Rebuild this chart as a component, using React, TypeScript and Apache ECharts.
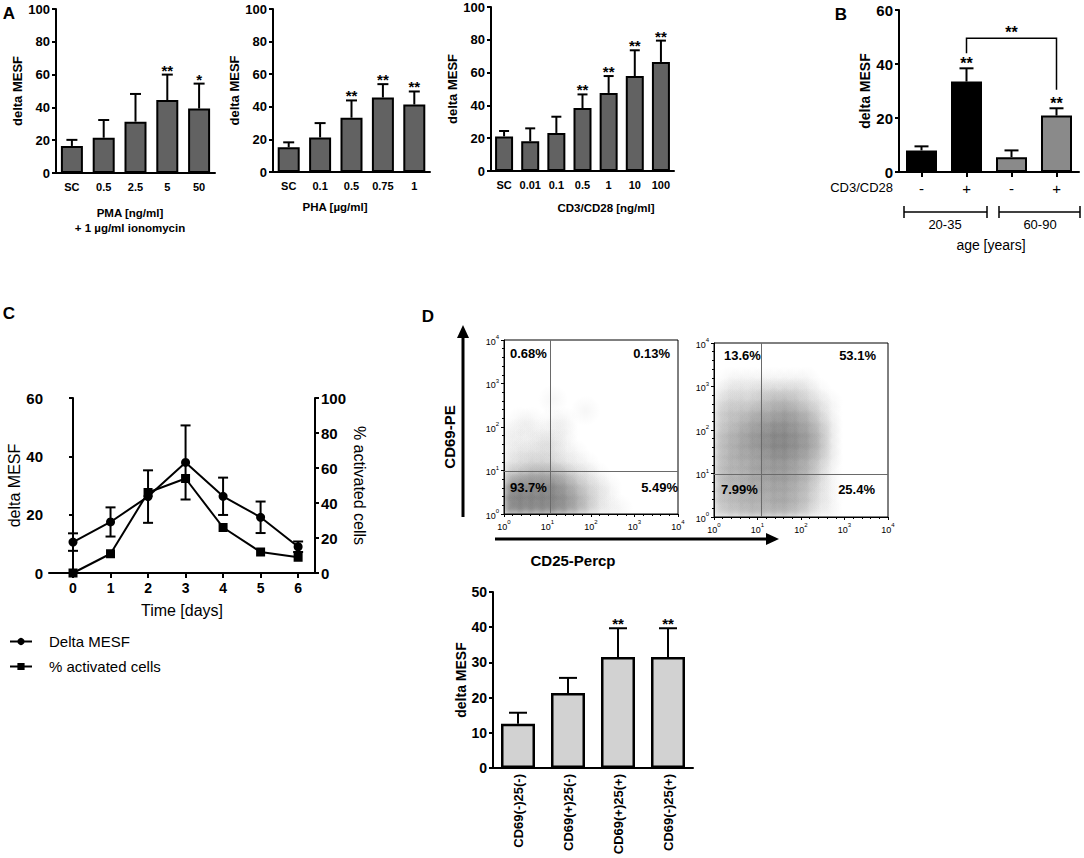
import React, { useEffect, useRef } from "react";
import * as echarts from "echarts";

const FF = "Liberation Sans, Arial, Helvetica, sans-serif";

// ---------------- Panel A ----------------
const a1Categories = ["SC", "0.5", "2.5", "5", "50"];
const a1Values = [16.5, 21.5, 31.3, 44.5, 39.3];
const a1ErrTop = [20.2, 32.3, 48.2, 60.0, 54.5];
const a1Stars = ["", "", "", "**", "*"];

const a2Categories = ["SC", "0.1", "0.5", "0.75", "1"];
const a2Values = [15.2, 21.2, 33.3, 45.7, 41.4];
const a2ErrTop = [18.2, 30.0, 43.9, 53.9, 49.4];
const a2Stars = ["", "", "**", "**", "**"];

const a3Categories = ["SC", "0.01", "0.1", "0.5", "1", "10", "100"];
const a3Values = [21.1, 18.1, 23.2, 38.4, 47.6, 57.9, 66.5];
const a3ErrTop = [24.4, 26.0, 33.1, 46.7, 57.9, 73.6, 79.5];
const a3Stars = ["", "", "", "**", "**", "**", "**"];

// ---------------- Panel B ----------------
const bCategories = ["-", "+", "-", "+"];
const bGroups = ["20-35", "60-90"];
const bValues = [8.0, 33.5, 5.5, 20.9];
const bErrTop = [9.5, 38.4, 8.0, 23.6];
const bStars = ["", "**", "", "**"];
const bColors = ["#000000", "#000000", "#8a8a8a", "#8a8a8a"];
// [from bar, to bar, left leg end, bracket level, right leg end]
const bCompare = [1, 3, 44, 49.5, 30.5];
const bCompareLabel = "**";

// ---------------- Panel C ----------------
const cDays = [0, 1, 2, 3, 4, 5, 6];
const cMesf = [10.6, 17.5, 26.2, 37.9, 26.3, 19.1, 9.0];
const cMesfErr = [3.0, 5.0, 9.0, 12.7, 6.4, 5.4, 1.8];
const cActivated = [0, 11, 46, 54, 26, 12, 9];

// ---------------- Panel D ----------------
const dFlowTicks = [0, 1, 2, 3, 4];
const dGateUnstim = [1.06, 0.99];
const dGateStim = [1.08, 0.99];
const dQuadUnstim = ["0.68%", "0.13%", "93.7%", "5.49%"];
const dQuadStim = ["13.6%", "53.1%", "7.99%", "25.4%"];
// density grids (rows from 10^4 down to 10^0, 16 columns from 10^0 to 10^4)
const dDensityUnstim = [
  "0000000000000000",
  "0000000000000000",
  "0000000000000000",
  "0000000000000000",
  "0000000000000000",
  "0000100000000000",
  "0000000100000000",
  "0110110000000000",
  "1111110000000000",
  "1112210000000000",
  "1222211000000000",
  "2233321100000000",
  "4566653210000000",
  "8999975321000000",
  "9999986421000000",
  "9999986421100000",
];
const dDensityStim = [
  "0000000000000000",
  "0000000000000000",
  "0000000000000000",
  "0111111110000000",
  "1222333321000000",
  "2333455432100000",
  "3445667653100000",
  "3456788764200000",
  "4567899875200000",
  "4567899875200000",
  "4566788764200000",
  "4556777653100000",
  "4556677653100000",
  "4556666542100000",
  "4455566542100000",
  "3445555431100000",
];
const dCategories = ["CD69(-)25(-)", "CD69(+)25(-)", "CD69(+)25(+)", "CD69(-)25(+)"];
const dValues = [12.6, 21.3, 31.5, 31.5];
const dErrTop = [15.7, 25.6, 39.7, 39.7];
const dStars = ["", "", "**", "**"];

// ---------------- helpers ----------------
const black = "#000";

function errRender(stars: string[], cap: number, starSize: number) {
  return (params: any, api: any) => {
    const x = api.value(0);
    const v = api.value(1);
    const t = api.value(2);
    const p0 = api.coord([x, v]);
    const p1 = api.coord([x, t]);
    const ls = { stroke: black, lineWidth: 2 };
    const children: any[] = [
      { type: "line", shape: { x1: p0[0], y1: p0[1], x2: p1[0], y2: p1[1] }, style: ls },
      { type: "line", shape: { x1: p1[0] - cap / 2, y1: p1[1], x2: p1[0] + cap / 2, y2: p1[1] }, style: ls },
    ];
    const s = stars[params.dataIndex];
    if (s) {
      children.push({
        type: "text",
        x: p1[0],
        y: p1[1] + 3,
        style: {
          text: s,
          font: `bold ${starSize}px ${FF}`,
          fill: black,
          textAlign: "center",
          textVerticalAlign: "bottom",
          align: "center",
          verticalAlign: "bottom",
        },
      });
    }
    return { type: "group", children };
  };
}

function symErrRender(cap: number) {
  return (params: any, api: any) => {
    const x = api.value(0);
    const lo = api.coord([x, api.value(1)]);
    const hi = api.coord([x, api.value(2)]);
    const ls = { stroke: black, lineWidth: 2 };
    return {
      type: "group",
      children: [
        { type: "line", shape: { x1: lo[0], y1: lo[1], x2: hi[0], y2: hi[1] }, style: ls },
        { type: "line", shape: { x1: hi[0] - cap / 2, y1: hi[1], x2: hi[0] + cap / 2, y2: hi[1] }, style: ls },
        { type: "line", shape: { x1: lo[0] - cap / 2, y1: lo[1], x2: lo[0] + cap / 2, y2: lo[1] }, style: ls },
      ],
    };
  };
}

function valueY(gridIndex: number, max: number, interval: number, name: string, nameGap: number, labelSize: number, nameSize: number, nameBold = true) {
  return {
    type: "value",
    gridIndex,
    min: 0,
    max,
    interval,
    name,
    nameLocation: "middle",
    nameGap,
    nameTextStyle: { fontFamily: FF, fontWeight: nameBold ? "bold" : "normal", fontSize: nameSize, color: black },
    axisLine: { show: true, lineStyle: { color: black, width: 2 } },
    axisTick: { show: true, length: 4, lineStyle: { color: black, width: 2 } },
    axisLabel: { fontFamily: FF, fontWeight: "bold", fontSize: labelSize, color: black, margin: 6 },
    splitLine: { show: false },
  };
}

function catX(gridIndex: number, cats: string[], labelSize: number, extra: any = {}) {
  return {
    type: "category",
    gridIndex,
    data: cats,
    boundaryGap: true,
    axisLine: { show: true, onZero: false, lineStyle: { color: black, width: 2 } },
    axisTick: { show: false },
    axisLabel: { fontFamily: FF, fontWeight: "bold", fontSize: labelSize, color: black, margin: 8, interval: 0 },
    splitLine: { show: false },
    ...extra,
  };
}

function barSeries(axisIndex: number, yIndex: number, vals: number[], colors: string[], barWidth: number, borderWidth = 2) {
  return {
    type: "bar",
    xAxisIndex: axisIndex,
    yAxisIndex: yIndex,
    barWidth,
    data: vals.map((v, i) => ({ value: v, itemStyle: { color: colors[i % colors.length] } })),
    itemStyle: { borderColor: black, borderWidth },
    z: 2,
    silent: true,
  };
}

function errSeries(axisIndex: number, yIndex: number, vals: number[], tops: number[], stars: string[], cap: number, starSize: number) {
  return {
    type: "custom",
    xAxisIndex: axisIndex,
    yAxisIndex: yIndex,
    data: vals.map((v, i) => [i, v, tops[i]]),
    encode: { x: 0, y: 2 },
    renderItem: errRender(stars, cap, starSize),
    z: 3,
    silent: true,
  };
}

function densityData(rows: string[]) {
  const out: number[][] = [];
  const step = 4 / rows.length;
  rows.forEach((r, ri) => {
    for (let ci = 0; ci < r.length; ci++) {
      const d = Number(r[ci]);
      if (d > 0) out.push([(ci + 0.5) * step, 4 - (ri + 0.5) * step, d]);
    }
  });
  return out;
}

function densityRender(step: number) {
  return (params: any, api: any) => {
    const c = api.coord([api.value(0), api.value(1)]);
    const s = api.size([step, step]);
    const d = api.value(2);
    const a = (d / 9) * 0.37;
    return {
      type: "circle",
      shape: { cx: c[0], cy: c[1], r: s[0] * 1.4 },
      style: {
        fill: new echarts.graphic.RadialGradient(0.5, 0.5, 0.5, [
          { offset: 0, color: `rgba(45,45,45,${a})` },
          { offset: 1, color: "rgba(45,45,45,0)" },
        ]),
      },
    };
  };
}

function flowAxis(gridIndex: number) {
  return {
    type: "value",
    gridIndex,
    min: dFlowTicks[0],
    max: dFlowTicks[dFlowTicks.length - 1],
    interval: 1,
    axisLine: { show: true, lineStyle: { color: black, width: 1 } },
    axisTick: { show: true, length: 3, lineStyle: { color: black, width: 1 } },
    minorTick: { show: true, splitNumber: 5, length: 2, lineStyle: { color: black, width: 1 } },
    axisLabel: {
      margin: 5,
      formatter: (v: number) => `{b|10}{s|${v}}`,
      rich: {
        b: { fontFamily: FF, fontSize: 9, color: black, verticalAlign: "bottom" },
        s: { fontFamily: FF, fontSize: 6, color: black, verticalAlign: "bottom", padding: [0, 0, 6, 0] },
      },
    },
    splitLine: { show: false },
  };
}

function flowSeries(axisIndex: number, yIndex: number, rows: string[], gate: number[]) {
  return {
    type: "custom",
    xAxisIndex: axisIndex,
    yAxisIndex: yIndex,
    data: densityData(rows),
    encode: { x: 0, y: 1 },
    renderItem: densityRender(4 / rows.length),
    clip: true,
    silent: true,
    z: 2,
    markLine: {
      silent: true,
      symbol: ["none", "none"],
      label: { show: false },
      lineStyle: { color: "#6a6a6a", width: 1, type: "solid" },
      data: [{ xAxis: gate[0] }, { yAxis: gate[1] }],
    },
  };
}

function T(text: string, x: number, y: number, font: string, align = "center", vAlign = "middle", rotation = 0) {
  return {
    type: "text",
    x,
    y,
    rotation,
    silent: true,
    z: 10,
    style: { text, font, fill: black, textAlign: align, textVerticalAlign: vAlign, align, verticalAlign: vAlign },
  };
}
function L(x1: number, y1: number, x2: number, y2: number, w = 1.5) {
  return { type: "line", silent: true, shape: { x1, y1, x2, y2 }, style: { stroke: black, lineWidth: w } };
}

function buildOption() {
  const grid = [
    { left: 56, top: 9, width: 159, height: 164 }, // A1
    { left: 273, top: 9, width: 157, height: 163 }, // A2
    { left: 491, top: 7, width: 183, height: 164 }, // A3
    { left: 899, top: 10, width: 180, height: 162 }, // B
    { left: 49, top: 398, width: 266, height: 175 }, // C
    { left: 504, top: 340, width: 174, height: 174, show: true, borderColor: black, borderWidth: 1, backgroundColor: "#fff" }, // D1
    { left: 714, top: 343, width: 174, height: 174, show: true, borderColor: black, borderWidth: 1, backgroundColor: "#fff" }, // D2
    { left: 493, top: 592, width: 200, height: 176 }, // D bars
  ];

  const xAxis: any[] = [
    catX(0, a1Categories, 11),
    catX(1, a2Categories, 11),
    catX(2, a3Categories, 11),
    catX(3, bCategories.map((_, i) => "b" + i), 14, {
      axisTick: { show: true, alignWithLabel: true, length: 5, lineStyle: { color: black, width: 2 } },
      axisLabel: {
        fontFamily: FF,
        fontSize: 15,
        color: black,
        margin: 9,
        interval: 0,
        formatter: (_v: string, i: number) => bCategories[i],
      },
    }),
    {
      type: "value",
      gridIndex: 4,
      min: -0.64,
      max: 6.45,
      minInterval: 1,
      maxInterval: 1,
      name: "Time [days]",
      nameLocation: "middle",
      nameGap: 29,
      nameTextStyle: { fontFamily: FF, fontSize: 16, color: black },
      axisLine: { show: true, onZero: false, lineStyle: { color: black, width: 2 } },
      axisTick: { show: true, length: 5, lineStyle: { color: black, width: 2 }, customValues: cDays },
      axisLabel: { fontFamily: FF, fontWeight: "bold", fontSize: 14, color: black, margin: 8, customValues: cDays },
      splitLine: { show: false },
    },
    flowAxis(5),
    flowAxis(6),
    catX(7, dCategories, 13, {
      axisLabel: { fontFamily: FF, fontWeight: "bold", fontSize: 13, color: black, margin: 6, interval: 0, rotate: 90 },
    }),
  ];

  const yAxis: any[] = [
    valueY(0, 100, 20, "delta MESF", 32, 13, 13),
    valueY(1, 100, 20, "delta MESF", 31, 13, 13),
    valueY(2, 100, 20, "delta MESF", 22, 13, 13),
    valueY(3, 60, 20, "delta MESF", 24, 15, 14),
    valueY(4, 60, 20, "delta MESF", 27, 15, 16, false),
    {
      ...valueY(4, 100, 20, "% activated cells", 36, 15, 16, false),
      position: "right",
      nameRotate: -90,
    },
    flowAxis(5),
    flowAxis(6),
    valueY(7, 50, 10, "delta MESF", 24, 14, 14),
  ];

  const aFill = ["#626262"];
  const series: any[] = [
    barSeries(0, 0, a1Values, aFill, 22),
    errSeries(0, 0, a1Values, a1ErrTop, a1Stars, 11, 15),
    barSeries(1, 1, a2Values, aFill, 22),
    errSeries(1, 1, a2Values, a2ErrTop, a2Stars, 11, 15),
    barSeries(2, 2, a3Values, aFill, 18),
    errSeries(2, 2, a3Values, a3ErrTop, a3Stars, 10, 15),
    barSeries(3, 3, bValues, bColors, 31),
    errSeries(3, 3, bValues, bErrTop, bStars, 14, 16),
    {
      type: "custom",
      xAxisIndex: 3,
      yAxisIndex: 3,
      data: [bCompare],
      encode: { x: 0, y: 3 },
      silent: true,
      z: 4,
      renderItem: (_p: any, api: any) => {
        const a = api.coord([api.value(0), api.value(2)]);
        const b = api.coord([api.value(0), api.value(3)]);
        const c = api.coord([api.value(1), api.value(3)]);
        const d = api.coord([api.value(1), api.value(4)]);
        return {
          type: "group",
          children: [
            { type: "polyline", shape: { points: [a, b, c, d] }, style: { stroke: black, lineWidth: 1.5, fill: null } },
            {
              type: "text",
              x: (b[0] + c[0]) / 2,
              y: b[1] + 2,
              style: { text: bCompareLabel, font: `bold 16px ${FF}`, fill: black, textAlign: "center", textVerticalAlign: "bottom", align: "center", verticalAlign: "bottom" },
            },
          ],
        };
      },
    },
    {
      name: "Delta MESF",
      type: "line",
      xAxisIndex: 4,
      yAxisIndex: 4,
      data: cDays.map((d, i) => [d, cMesf[i]]),
      symbol: "circle",
      symbolSize: 9,
      itemStyle: { color: black },
      lineStyle: { color: black, width: 2 },
      z: 5,
      silent: true,
    },
    {
      type: "custom",
      xAxisIndex: 4,
      yAxisIndex: 4,
      data: cDays.map((d, i) => [d, cMesf[i] - cMesfErr[i], cMesf[i] + cMesfErr[i]]),
      encode: { x: 0, y: 2 },
      renderItem: symErrRender(10),
      silent: true,
      z: 4,
    },
    {
      name: "% activated cells",
      type: "line",
      xAxisIndex: 4,
      yAxisIndex: 5,
      data: cDays.map((d, i) => [d, cActivated[i]]),
      symbol: "rect",
      symbolSize: 9,
      itemStyle: { color: black },
      lineStyle: { color: black, width: 2 },
      z: 5,
      silent: true,
    },
    flowSeries(5, 6, dDensityUnstim, dGateUnstim),
    flowSeries(6, 7, dDensityStim, dGateStim),
    barSeries(7, 8, dValues, ["#d2d2d2"], 34, 2.5),
    errSeries(7, 8, dValues, dErrTop, dStars, 18, 15),
  ];

  const bold = (s: number) => `bold ${s}px ${FF}`;
  const reg = (s: number) => `${s}px ${FF}`;

  const graphic: any[] = [
    // panel letters
    T("A", 9, 13, bold(17)),
    T("B", 841, 14, bold(17)),
    T("C", 9, 313, bold(17)),
    T("D", 428, 316, bold(17)),
    // A axis titles
    T("PMA [ng/ml]", 130, 213, bold(11.5)),
    T("+ 1 µg/ml ionomycin", 130, 228, bold(11.5)),
    T("PHA [µg/ml]", 335, 207, bold(11.5)),
    T("CD3/CD28 [ng/ml]", 606, 208, bold(11.5)),
    // B annotations
    T("CD3/CD28", 893, 187, reg(13), "right"),
    L(904, 212, 987, 212),
    L(904, 206, 904, 218),
    L(987, 206, 987, 218),
    L(999, 212, 1080, 212),
    L(999, 206, 999, 218),
    L(1080, 206, 1080, 218),
    T(bGroups[0], 945, 224, reg(13)),
    T(bGroups[1], 1040, 224, reg(13)),
    T("age [years]", 991, 245, reg(14)),
    // D flow annotations
    L(463, 517, 463, 336, 3),
    { type: "polygon", silent: true, shape: { points: [[457, 338], [469, 338], [463, 325]] }, style: { fill: black } },
    L(495, 539, 768, 539, 3),
    { type: "polygon", silent: true, shape: { points: [[766, 533], [766, 545], [779, 539]] }, style: { fill: black } },
    T("CD69-PE", 449, 437, bold(15), "center", "middle", Math.PI / 2),
    T("CD25-Percp", 573, 560, bold(15)),
    T(dQuadUnstim[0], 510, 353, bold(13), "left"),
    T(dQuadUnstim[1], 670, 353, bold(13), "right"),
    T(dQuadUnstim[2], 510, 487, bold(13), "left"),
    T(dQuadUnstim[3], 678, 487, bold(13), "right"),
    T(dQuadStim[0], 724, 355, bold(13), "left"),
    T(dQuadStim[1], 876, 355, bold(13), "right"),
    T(dQuadStim[2], 721, 489, bold(13), "left"),
    T(dQuadStim[3], 875, 489, bold(13), "right"),
  ];

  return {
    animation: false,
    backgroundColor: "#fff",
    textStyle: { fontFamily: FF },
    grid,
    xAxis,
    yAxis,
    series,
    legend: {
      data: ["Delta MESF", "% activated cells"],
      orient: "vertical",
      left: 4,
      top: 629,
      itemWidth: 22,
      itemHeight: 9,
      itemGap: 10,
      selectedMode: false,
      textStyle: { fontFamily: FF, fontSize: 15, color: black, padding: [0, 0, 0, 12] },
    },
    graphic,
  };
}

export default function App() {
  const ref = useRef<HTMLDivElement>(null);
  useEffect(() => {
    if (!ref.current) return;
    const chart = echarts.init(ref.current, null, { renderer: "svg" });
    chart.setOption(buildOption() as any);
    return () => chart.dispose();
  }, []);
  return (
    <div
      ref={ref}
      style={{ position: "absolute", left: 0, top: 0, width: 1084, height: 858, background: "#fff" }}
    />
  );
}
